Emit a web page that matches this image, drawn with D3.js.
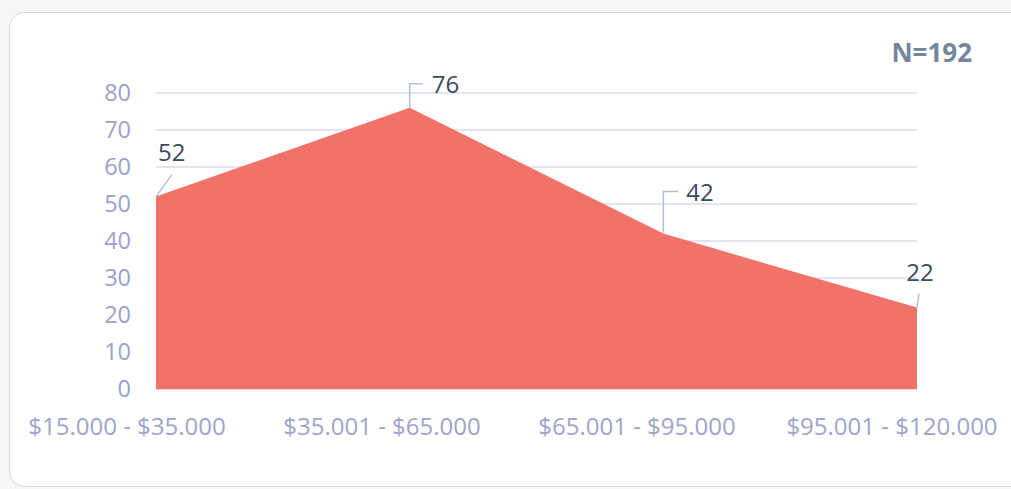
<!DOCTYPE html>
<html>
<head>
<meta charset="utf-8">
<script src="https://cdn.jsdelivr.net/npm/d3@7"></script>
<style>
  body { margin: 0; background: #f6f6f7; font-family: "Open Sans", sans-serif; }
  svg { display: block; }
</style>
</head>
<body>
<svg id="chart" width="1011" height="489"></svg>
<script>
// chart data
var categories = ["$15.000 - $35.000", "$35.001 - $65.000", "$65.001 - $95.000", "$95.001 - $120.000"];
var values = [52, 76, 42, 22];
var yTicks = [0, 10, 20, 30, 40, 50, 60, 70, 80];
var totalLabel = "N=192";

var svg = d3.select('#chart');

// card
svg.append('rect')
  .attr('x', 9.5).attr('y', 12.5)
  .attr('width', 1030).attr('height', 474)
  .attr('rx', 15)
  .attr('fill', '#fff')
  .attr('stroke', '#d9d9dd');

var x = d3.scalePoint().domain(categories).range([156, 917]);
// category labels sit a little left of their points
var xLabel = d3.scalePoint().domain(categories).range([127, 892]);
var y = d3.scaleLinear().domain([0, 80]).range([389, 93]);

// grid
svg.append('g').selectAll('line')
  .data(yTicks)
  .enter().append('line')
  .attr('x1', 156).attr('x2', 917)
  .attr('y1', function(d) { return y(d); })
  .attr('y2', function(d) { return y(d); })
  .attr('stroke', function(d) { return d === 0 ? '#dcdff0' : '#e2e5ee'; })
  .attr('stroke-width', 2);

// y labels
svg.append('g').selectAll('text')
  .data(yTicks)
  .enter().append('text')
  .attr('x', 131)
  .attr('y', function(d) { return y(d); })
  .attr('dy', '0.36em')
  .attr('text-anchor', 'end')
  .attr('font-size', 23.5)
  .attr('fill', '#9d9fcc')
  .text(function(d) { return d; });

// x labels
svg.append('g').selectAll('text')
  .data(categories)
  .enter().append('text')
  .attr('x', function(d) { return xLabel(d); })
  .attr('y', 435)
  .attr('text-anchor', 'middle')
  .attr('font-size', 24)
  .attr('fill', '#a0a3cc')
  .text(function(d) { return d; });

// area
var pts = categories.map(function(c, i) { return { cat: c, v: values[i] }; });
var area = d3.area()
  .x(function(d) { return x(d.cat); })
  .y0(y(0))
  .y1(function(d) { return y(d.v); });

svg.append('path')
  .datum(pts)
  .attr('d', area)
  .attr('fill', '#f07268');

// data labels with leader lines
var labelPos = [
  { path: [[0, 0], [16, -22]], tx: 2, ty: -44, anchor: 'start' },
  { path: [[0, 0], [0, -24], [13, -24]], tx: 22, ty: -23, anchor: 'start' },
  { path: [[0, 0], [0, -42], [15, -42]], tx: 23, ty: -41, anchor: 'start' },
  { path: [[0, 0], [2, -14]], tx: 3, ty: -35, anchor: 'middle' }
];

var lbl = svg.append('g').selectAll('g')
  .data(pts)
  .enter().append('g')
  .attr('transform', function(d) { return 'translate(' + x(d.cat) + ',' + y(d.v) + ')'; });

lbl.append('path')
  .attr('d', function(d, i) { return d3.line()(labelPos[i].path); })
  .attr('fill', 'none')
  .attr('stroke', '#b4bfcc')
  .attr('stroke-width', 1.5);

lbl.append('text')
  .attr('x', function(d, i) { return labelPos[i].tx; })
  .attr('y', function(d, i) { return labelPos[i].ty; })
  .attr('dy', '0.36em')
  .attr('text-anchor', function(d, i) { return labelPos[i].anchor; })
  .attr('font-size', 24)
  .attr('fill', '#3b4a5e')
  .text(function(d) { return d.v; });

// N label
svg.append('text')
  .attr('x', 972).attr('y', 62)
  .attr('text-anchor', 'end')
  .attr('font-size', 26)
  .attr('font-weight', 'bold')
  .attr('fill', '#7585a0')
  .text(totalLabel);
</script>
</body>
</html>
